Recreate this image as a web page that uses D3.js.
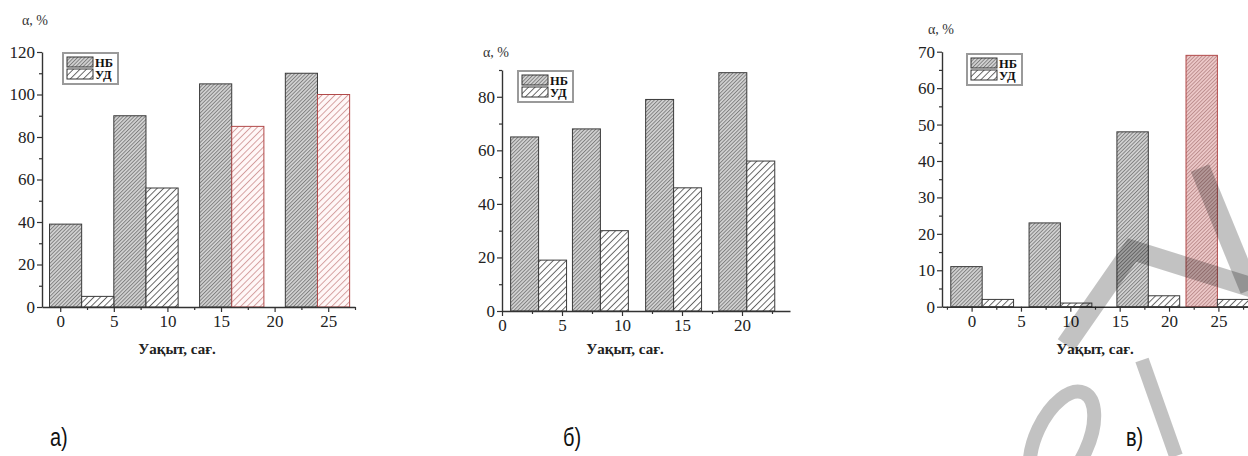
<!DOCTYPE html>
<html>
<head>
<meta charset="utf-8">
<script src="https://cdn.jsdelivr.net/npm/d3@7"></script>
<style>
  body { margin: 0; background: #fff; }
  svg { display: block; }
  .serif { font-family: "Liberation Serif", "DejaVu Serif", serif; }
</style>
</head>
<body>
<div id="chart"></div>
<script>
// data
const seriesNames = ["НБ", "УД"];
const panelLabels = ["а)", "б)", "в)"];
const xTitle = "Уақыт, сағ.";
const yTitle = "α, %";

// а)
const nbA = [39, 90, 105, 110];
const udA = [5, 56, 85, 100];
const posA = [2, 8, 16, 24];          // x where НБ ends and УД starts
const xTicksA = [0, 5, 10, 15, 20, 25];
const yTicksA = [0, 20, 40, 60, 80, 100, 120];
const redUdA = [2, 3];                 // УД bars drawn in red
const redNbA = [];

// б)
const nbB = [65, 68, 79, 89];
const udB = [19, 30, 46, 56];
const posB = [3.05, 8.2, 14.3, 20.4];
const xTicksB = [0, 5, 10, 15, 20];
const yTicksB = [0, 20, 40, 60, 80];
const redUdB = [];
const redNbB = [];

// в)
const nbV = [11, 23, 48, 69];
const udV = [2, 1, 3, 2];
const posV = [1.07, 9.0, 17.9, 24.9];
const xTicksV = [0, 5, 10, 15, 20, 25];
const yTicksV = [0, 10, 20, 30, 40, 50, 60, 70];
const redUdV = [];
const redNbV = [3];

const width = 1248, height = 456;
const svg = d3.select("#chart").append("svg")
    .attr("width", width)
    .attr("height", height);

// hatch patterns
const defs = svg.append("defs");
function hatch(id, step, bg, line, lw) {
    const p = defs.append("pattern")
        .attr("id", id)
        .attr("patternUnits", "userSpaceOnUse")
        .attr("width", step).attr("height", step)
        .attr("patternTransform", "rotate(45)");
    p.append("rect").attr("width", step).attr("height", step).attr("fill", bg);
    p.append("line")
        .attr("x1", 0.5).attr("y1", 0).attr("x2", 0.5).attr("y2", step)
        .attr("stroke", line).attr("stroke-width", lw);
}
hatch("nb", 2.6, "#d4d4d4", "#7a7a7a", 0.9);
hatch("ud", 4.6, "#ffffff", "#5a5a5a", 0.9);
hatch("udRed", 4.6, "#fff7f7", "#d29a9a", 0.9);
hatch("nbRed", 2.6, "#eecaca", "#b88888", 0.9);

const panels = [
    {nb: nbA, ud: udA, pos: posA, bw: 3, xTicks: xTicksA, yTicks: yTicksA,
     redUd: redUdA, redNb: redNbA,
     xDomain: [-1.7, 27.5], xRange: [42, 355], yDomain: [0, 120], yRange: [307, 52],
     legend: [63, 53], yTitle: [22, 25], xTitleX: 177, label: [50, 446]},
    {nb: nbB, ud: udB, pos: posB, bw: 2.33, xTicks: xTicksB, yTicks: yTicksB,
     redUd: redUdB, redNb: redNbB,
     xDomain: [0, 24], xRange: [502, 790], yDomain: [0, 90], yRange: [311, 70],
     legend: [518, 71], yTitle: [483, 57], xTitleX: 625, label: [563, 446]},
    {nb: nbV, ud: udV, pos: posV, bw: 3.18, xTicks: xTicksV, yTicks: yTicksV,
     redUd: redUdV, redNb: redNbV,
     xDomain: [-3, 28], xRange: [942, 1248], yDomain: [0, 70], yRange: [306.7, 51.7],
     legend: [967, 54], yTitle: [928, 34], xTitleX: 1095, label: [1126, 446]}
];

function drawPanel(p, idx) {
    const x = d3.scaleLinear().domain(p.xDomain).range(p.xRange);
    const y = d3.scaleLinear().domain(p.yDomain).range(p.yRange);
    const g = svg.append("g");

    // bars: НБ left of pos, УД right of pos
    g.selectAll("rect.nb").data(p.nb).join("rect")
        .attr("class", "nb")
        .attr("x", (d, i) => x(p.pos[i] - p.bw))
        .attr("y", d => y(d))
        .attr("width", (d, i) => x(p.pos[i]) - x(p.pos[i] - p.bw))
        .attr("height", d => y(0) - y(d))
        .attr("fill", (d, i) => p.redNb.includes(i) ? "url(#nbRed)" : "url(#nb)")
        .attr("stroke", (d, i) => p.redNb.includes(i) ? "#b24a4a" : "#3a3a3a")
        .attr("stroke-width", 1);

    g.selectAll("rect.ud").data(p.ud).join("rect")
        .attr("class", "ud")
        .attr("x", (d, i) => x(p.pos[i]))
        .attr("y", d => y(d))
        .attr("width", (d, i) => x(p.pos[i] + p.bw) - x(p.pos[i]))
        .attr("height", d => y(0) - y(d))
        .attr("fill", (d, i) => p.redUd.includes(i) ? "url(#udRed)" : "url(#ud)")
        .attr("stroke", (d, i) => p.redUd.includes(i) ? "#b24a4a" : "#3a3a3a")
        .attr("stroke-width", 1);

    // minor ticks
    const step = p.yTicks[1] - p.yTicks[0];
    const yMinor = d3.range(p.yDomain[0] + step / 2, p.yDomain[1] + 0.01, step / 2)
        .filter(v => !p.yTicks.includes(v));
    const xMinor = d3.range(0, p.xDomain[1] + 0.01, 2.5)
        .concat(d3.range(-2.5, p.xDomain[0] - 0.01, -2.5))
        .filter(v => !p.xTicks.includes(v));

    g.append("g")
        .attr("transform", `translate(0,${p.yRange[0]})`)
        .call(d3.axisBottom(x).tickValues(xMinor).tickSize(3).tickSizeOuter(0).tickFormat(""))
        .call(a => a.select(".domain").remove());
    g.append("g")
        .attr("transform", `translate(${p.xRange[0]},0)`)
        .call(d3.axisLeft(y).tickValues(yMinor).tickSize(3).tickSizeOuter(0).tickFormat(""))
        .call(a => a.select(".domain").remove());

    g.append("g")
        .attr("transform", `translate(0,${p.yRange[0]})`)
        .call(d3.axisBottom(x).tickValues(p.xTicks).tickSize(5).tickSizeOuter(0).tickPadding(3));
    g.append("g")
        .attr("transform", `translate(${p.xRange[0]},0)`)
        .call(d3.axisLeft(y).tickValues(p.yTicks).tickSize(5).tickSizeOuter(0).tickPadding(2));

    g.selectAll(".tick line").attr("stroke", "#333").attr("stroke-width", 1.2);
    g.selectAll(".domain").attr("stroke", "#333").attr("stroke-width", 1.4);
    g.selectAll(".tick text")
        .attr("class", "serif")
        .style("font-family", "'Liberation Serif', 'DejaVu Serif', serif")
        .style("font-size", "17px")
        .attr("fill", "#222");

    // titles
    g.append("text")
        .attr("class", "serif")
        .attr("x", p.yTitle[0]).attr("y", p.yTitle[1])
        .style("font-size", "14px")
        .attr("fill", "#333")
        .text(yTitle);
    g.append("text")
        .attr("class", "serif")
        .attr("x", p.xTitleX).attr("y", 354)
        .attr("text-anchor", "middle")
        .style("font-weight", "bold")
        .style("font-size", "15px")
        .attr("fill", "#222")
        .text(xTitle);

    // legend
    const lg = g.append("g").attr("transform", `translate(${p.legend[0]},${p.legend[1]})`);
    lg.append("rect")
        .attr("width", 55).attr("height", 31)
        .attr("fill", "#fff")
        .attr("stroke", "#9a9a9a").attr("stroke-width", 2);
    seriesNames.forEach((s, i) => {
        lg.append("rect")
            .attr("x", 4).attr("y", 4 + i * 12)
            .attr("width", 26).attr("height", 10)
            .attr("fill", i === 0 ? "url(#nb)" : "url(#ud)")
            .attr("stroke", "#333").attr("stroke-width", 1);
        lg.append("text")
            .attr("class", "serif")
            .attr("x", 32).attr("y", 13.5 + i * 12)
            .style("font-weight", "bold")
            .style("font-size", "12.5px")
            .attr("fill", "#111")
            .text(s);
    });

    // sub-figure label
    svg.append("text")
        .attr("transform", `translate(${p.label[0]},${p.label[1]}) scale(0.8,1)`)
        .style("font-family", "'Liberation Sans', Arial, sans-serif")
        .style("font-size", "25px")
        .attr("fill", "#111")
        .text(panelLabels[idx]);
}

panels.forEach(drawPanel);

// watermark strokes over panel в)
const wm = svg.append("g")
    .attr("fill", "none")
    .attr("stroke", "#000")
    .attr("stroke-opacity", 0.24)
    .attr("stroke-width", 20)
    .attr("stroke-linejoin", "miter");
wm.append("path").attr("d", "M1066,345 L1132,250 L1260,290");
wm.append("path").attr("d", "M1200,168 L1250,290");
wm.append("ellipse")
    .attr("cx", 1062).attr("cy", 440).attr("rx", 26).attr("ry", 52)
    .attr("transform", "rotate(25,1062,440)")
    .attr("stroke-width", 14);
wm.append("path").attr("d", "M1142,360 L1176,456").attr("stroke-width", 14);
</script>
</body>
</html>
